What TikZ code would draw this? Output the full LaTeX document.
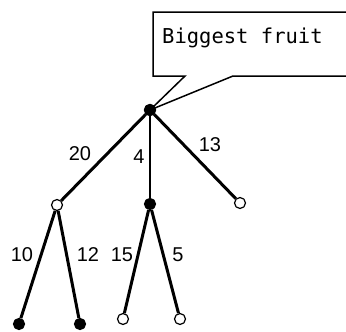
\documentclass[tikz,border=0pt]{standalone}
\usepackage{fontspec}
\setmainfont{Liberation Sans}
\newfontfamily\boxmono{DejaVu Sans Mono}
\begin{document}
\begin{tikzpicture}[x=1pt,y=-1pt,
  filled/.style={circle,fill=black,draw=black,line width=1.2pt,inner sep=0pt,minimum size=11pt},
  hollow/.style={circle,fill=white,draw=black,line width=1.2pt,inner sep=0pt,minimum size=11pt},
  thickedge/.style={line width=3pt},
  thinedge/.style={line width=1.5pt},
  lbl/.style={font=\fontsize{20}{22}\selectfont,inner sep=0pt}]
\useasboundingbox (0,0) rectangle (346,332);
\clip (0,0) rectangle (346,332);
% nodes
\node[filled] (r) at (150,110) {};
\node[hollow] (a) at (57,205) {};
\node[filled] (b) at (150,204) {};
\node[hollow] (c) at (240,203) {};
\node[filled] (a1) at (19,324) {};
\node[filled] (a2) at (80,324) {};
\node[hollow] (b1) at (123,319) {};
\node[hollow] (b2) at (180,319) {};
% callout
\coordinate (tip) at (150,110);
\draw[line width=1.5pt,fill=white] (tip) -- (185,76) -- (153,76) -- (153,12) -- (352,12) -- (352,76) -- (233,76) -- cycle;
\node[anchor=base west,inner sep=0pt,font=\boxmono\fontsize{20.5}{22}\selectfont] (t) at (162,43) {Biggest fruit};
% edges
\draw[thickedge] (r) -- (a);
\draw[thinedge] (r) -- (b);
\draw[thickedge] (r) -- (c);
\draw[thickedge] (a) -- (a1);
\draw[thickedge] (a) -- (a2);
\draw[thickedge] (b) -- (b1);
\draw[thickedge] (b) -- (b2);
\node[filled] at (r) {};
% labels
\node[lbl] (l20) at (80,154) {20};
\node[lbl] (l4) at (139,157) {4};
\node[lbl] (l13) at (210,145) {13};
\node[lbl] (l10) at (22,255) {10};
\node[lbl] (l12) at (88,255) {12};
\node[lbl] (l15) at (122,255) {15};
\node[lbl] (l5) at (178,255) {5};
\end{tikzpicture}
\end{document}
